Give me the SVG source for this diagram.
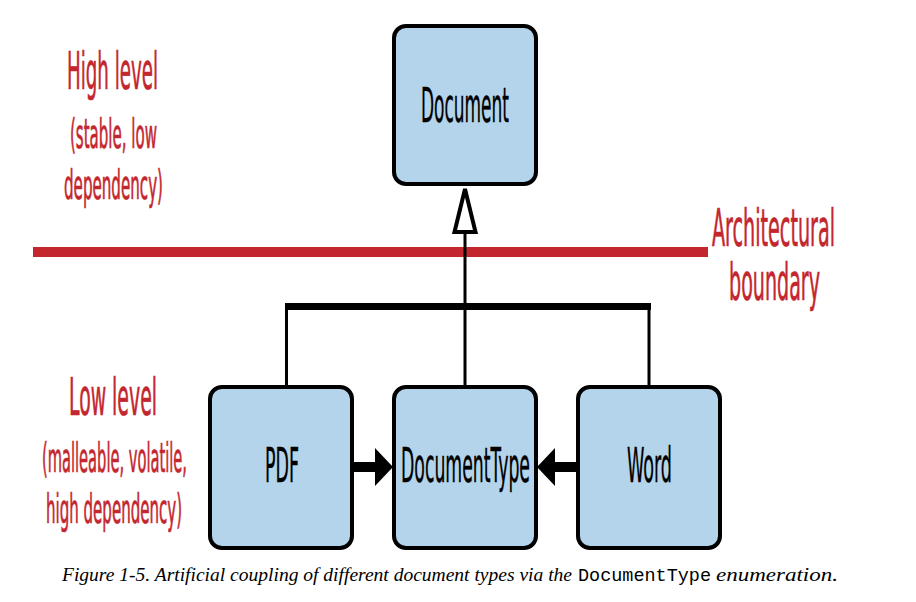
<svg xmlns="http://www.w3.org/2000/svg" width="916" height="602" viewBox="0 0 916 602">
<style>
.box{fill:#b3d4ea;stroke:#000;stroke-width:4}
.lbl{font-family:"Liberation Sans Narrow","DejaVu Sans Condensed","Liberation Sans",sans-serif;font-size:48px;fill:#000;stroke:#000;stroke-width:0.4}
.red{font-family:"Liberation Sans Narrow","DejaVu Sans Condensed","Liberation Sans",sans-serif;fill:#c4262e;stroke:#c4262e;stroke-width:0.7}
.h{font-size:51px}
.s{font-size:40px}
.cap{font-family:"Liberation Serif",serif;font-style:italic;font-size:18px;fill:#000}
.mono{font-family:"Liberation Mono",monospace;font-style:normal;font-size:18px}
.ln{stroke:#000;stroke-width:3;fill:none}
</style>
<rect width="916" height="602" fill="#fff"/>
<g id="boundary">
<rect x="33" y="247" width="675" height="10" fill="#c4262e"/>
<text class="red h" x="712" y="246" textLength="123" lengthAdjust="spacingAndGlyphs">Architectural</text>
<text class="red h" x="729" y="300" textLength="91" lengthAdjust="spacingAndGlyphs">boundary</text>
</g>
<g id="high-level">
<text class="red h" x="67" y="89" textLength="91" lengthAdjust="spacingAndGlyphs">High level</text>
<text class="red s" x="70" y="148" textLength="87" lengthAdjust="spacingAndGlyphs">(stable, low</text>
<text class="red s" x="64" y="199" textLength="99" lengthAdjust="spacingAndGlyphs">dependency)</text>
</g>
<g id="low-level">
<text class="red h" x="69" y="415" textLength="88" lengthAdjust="spacingAndGlyphs">Low level</text>
<text class="red s" x="42" y="472" textLength="145" lengthAdjust="spacingAndGlyphs">(malleable, volatile,</text>
<text class="red s" x="46" y="523" textLength="136" lengthAdjust="spacingAndGlyphs">high dependency)</text>
</g>
<g id="connectors">
<line class="ln" x1="465" y1="232" x2="465" y2="387"/>
<polygon points="465,189 475.5,232 454.5,232" fill="#fff" stroke="#000" stroke-width="4" stroke-linejoin="miter"/>
<rect x="285" y="303" width="366" height="7" fill="#000"/>
<line class="ln" x1="286.5" y1="303" x2="286.5" y2="387"/>
<line class="ln" x1="649" y1="303" x2="649" y2="387"/>
<rect x="353" y="462" width="24" height="10" fill="#000"/>
<polygon points="375,448 393,467 375,486" fill="#000"/>
<rect x="553" y="462" width="24" height="10" fill="#000"/>
<polygon points="555,448 537,467 555,486" fill="#000"/>
</g>
<g id="document">
<rect class="box" x="394" y="26" width="142" height="158" rx="12"/>
<text class="lbl" x="421" y="122" textLength="88" lengthAdjust="spacingAndGlyphs">Document</text>
</g>
<g id="pdf">
<rect class="box" x="210" y="387" width="142" height="161" rx="12"/>
<text class="lbl" x="265" y="482" textLength="34" lengthAdjust="spacingAndGlyphs">PDF</text>
</g>
<g id="documenttype">
<rect class="box" x="394" y="387" width="142" height="161" rx="12"/>
<text class="lbl" x="401" y="482" textLength="129" lengthAdjust="spacingAndGlyphs">DocumentType</text>
</g>
<g id="word">
<rect class="box" x="578" y="387" width="142" height="161" rx="12"/>
<text class="lbl" x="627" y="482" textLength="45" lengthAdjust="spacingAndGlyphs">Word</text>
</g>
<g id="caption">
<text class="cap" y="581"><tspan x="62" textLength="510" lengthAdjust="spacingAndGlyphs">Figure 1-5. Artificial coupling of different document types via the</tspan><tspan class="mono" x="578" textLength="133" lengthAdjust="spacingAndGlyphs">DocumentType</tspan><tspan x="716" textLength="122" lengthAdjust="spacingAndGlyphs">enumeration.</tspan></text>
</g>
</svg>
